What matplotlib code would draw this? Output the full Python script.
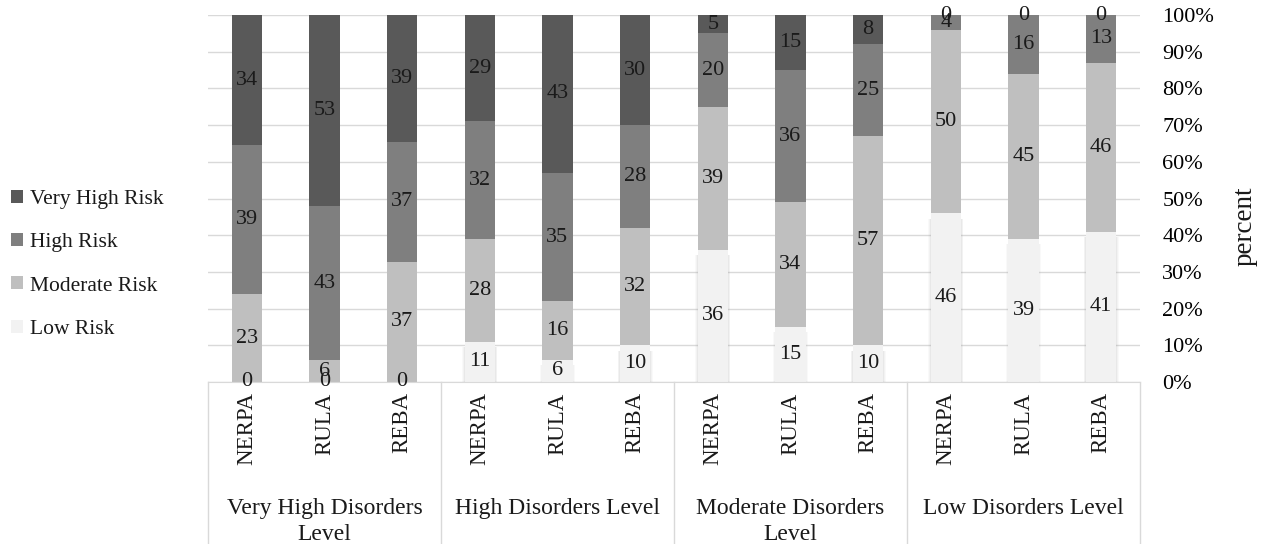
import numpy as np
import matplotlib.pyplot as plt

plt.rcParams['font.family'] = ['Liberation Serif', 'DejaVu Serif']
plt.rcParams['text.color'] = '#1a1a1a'

# Disorder level groups and the three assessment methods in each
groups = ["Very High Disorders\nLevel", "High Disorders Level",
          "Moderate Disorders\nLevel", "Low Disorders Level"]
methods = ["NERPA", "RULA", "REBA"]

# Counts per risk class, bar order: group by group, NERPA / RULA / REBA
low_risk = [0, 0, 0, 11, 6, 10, 36, 15, 10, 46, 39, 41]
moderate_risk = [23, 6, 37, 28, 16, 32, 39, 34, 57, 50, 45, 46]
high_risk = [39, 43, 37, 32, 35, 28, 20, 36, 25, 4, 16, 13]
very_high_risk = [34, 53, 39, 29, 43, 30, 5, 15, 8, 0, 0, 0]

series = [
    ("Low Risk", low_risk, "#f2f2f2"),
    ("Moderate Risk", moderate_risk, "#bfbfbf"),
    ("High Risk", high_risk, "#7f7f7f"),
    ("Very High Risk", very_high_risk, "#595959"),
]

counts = np.array([s[1] for s in series], dtype=float)
totals = counts.sum(axis=0)
shares = counts / totals * 100.0

fig = plt.figure(figsize=(12.65, 5.44), dpi=100)
ax = fig.add_axes([0.1644, 0.2978, 0.7368, 0.6746])

x = np.arange(len(low_risk))
width = 0.39

# soft shadow around the light "Low Risk" bars
low_share = shares[0]
for extra, alpha in [(0.06, 0.06), (0.04, 0.08), (0.02, 0.12)]:
    ax.bar(x, np.maximum(low_share - 1.5, 0), width + extra, color="#a0a0a0",
           alpha=alpha, lw=0, zorder=1.5)

bottom = np.zeros(len(x))
handles = []
for (name, vals, color), share in zip(series, shares):
    bars = ax.bar(x, share, width, bottom=bottom, color=color, label=name, zorder=2)
    handles.append(bars)
    for xi, b, h, v in zip(x, bottom, share, vals):
        ax.text(xi, b + h / 2, str(v), ha="center", va="center", fontsize=16, zorder=3)
    bottom += share

ax.set_xlim(-0.5, len(x) - 0.5)
ax.set_ylim(0, 100)
ax.set_yticks(range(0, 101, 10))
ax.set_yticklabels([f"{t}%" for t in range(0, 101, 10)])
ax.yaxis.tick_right()
ax.tick_params(axis="y", length=0, pad=16, labelsize=16)
ax.yaxis.grid(True, color="#d9d9d9", lw=1)
ax.set_axisbelow(True)
ax.set_xticks([])
for side in ["top", "left", "right"]:
    ax.spines[side].set_visible(False)
ax.spines["bottom"].set_color("#d9d9d9")

# Two-level category axis below the bars
fig_bottom = -ax.get_position().y0 / ax.get_position().height
for b in np.arange(-0.5, len(x), 3):
    ax.plot([b, b], [0, fig_bottom * 100], color="#d9d9d9", lw=1,
            clip_on=False, zorder=1)
for xi in x:
    ax.text(xi, -2.8, methods[xi % 3], rotation=90, ha="center", va="top",
            fontsize=16.5)
for gi, g in enumerate(groups):
    ax.text(gi * 3 + 1, -31.6, g, ha="center", va="top", fontsize=17,
            multialignment="center", linespacing=1.3)

fig.text(1245 / 1265, 1 - 226 / 544, "percent", rotation=90, ha="center",
         va="center", fontsize=19.5)

fig.legend(handles[::-1], [s[0] for s in series][::-1], loc="center left",
           bbox_to_anchor=(0.009, 0.514), frameon=False, fontsize=15.5,
           handlelength=0.55, handleheight=0.55, handletextpad=0.3,
           labelspacing=1.12, borderpad=0, borderaxespad=0)

fig.savefig("out.png", dpi=100)
